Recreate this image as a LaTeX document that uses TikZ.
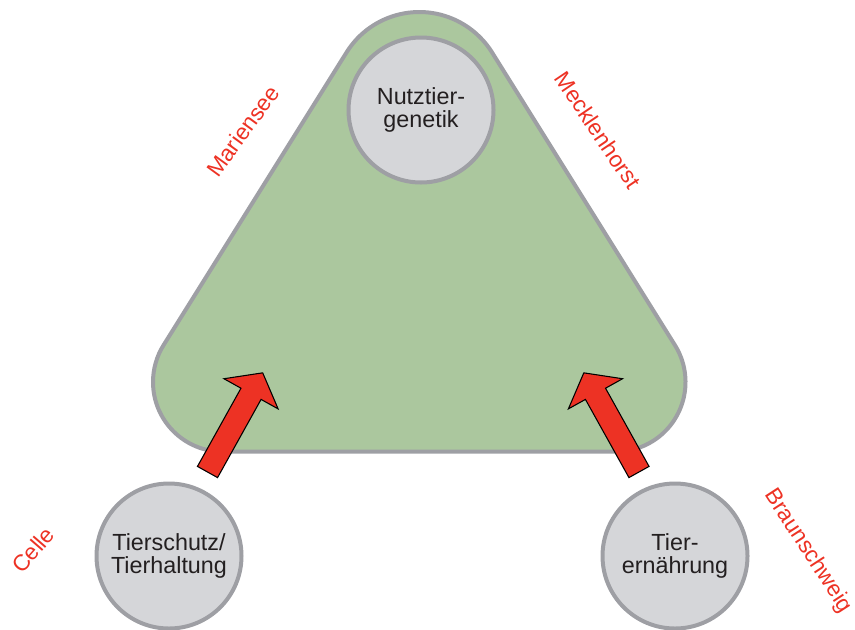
\documentclass[tikz,border=0pt]{standalone}
\usepackage{fontspec}
\setmainfont{Liberation Sans}
\definecolor{hubgreen}{RGB}{171,199,158}
\definecolor{rimgray}{RGB}{158,159,164}
\definecolor{discgray}{RGB}{213,214,217}
\definecolor{sitered}{RGB}{237,50,36}
\definecolor{inkblack}{RGB}{35,31,32}
\begin{document}
\begin{tikzpicture}[x=0.75pt,y=0.75pt,
  disc/.style={circle, draw=rimgray, line width=3pt, fill=discgray,
    minimum size=108.75pt, inner sep=0pt, align=center, text=inkblack,
    font=\fontsize{17.5}{17.5}\selectfont},
  site/.style={text=sitered, inner sep=0pt, font=\fontsize{17}{17}\selectfont},
  hub/.style={fill=hubgreen, draw=rimgray, line width=3pt},
  pics/bigarrow/.style={code={
    \draw[fill=sitered, draw=black, line width=0.8pt, line join=miter]
      (0,-11.5) -- (89.5,-11.5) -- (89.5,-31) -- (113.5,0)
      -- (89.5,31) -- (89.5,11.5) -- (0,11.5) -- cycle;
  }}
]
\useasboundingbox (0,-629) rectangle (855,0);

% rounded triangle holding the central institute
\draw[hub]
  (222.7,-451.7) arc[start angle=270, end angle=148, radius=52.275pt]
  -- (346.6,-52.3) arc[start angle=148, end angle=32, radius=64.275pt]
  -- (674.9,-345.1) arc[start angle=32, end angle=-90, radius=52.275pt]
  -- cycle;

% research areas
\node[disc] (genetik) at (421,-110) {Nutztier-\\genetik};
\node[disc] (haltung) at (169,-556) {Tierschutz/\\Tierhaltung};
\node[disc] (ernaehrung) at (675,-556) {Tier-\\ernährung};

% block arrows into the triangle
\pic (leftarrow) [rotate=60.9] at (207.5,-472) {bigarrow};
\pic (rightarrow) [rotate=119.1] at (639,-472) {bigarrow};

% locations
\node[site, rotate=54] (mariensee) at (243,-131) {Mariensee};
\node[site, rotate=-56] (mecklenhorst) at (598,-130) {Mecklenhorst};
\node[site, rotate=49] (celle) at (33,-550) {Celle};
\node[site, rotate=-57] (braunschweig) at (808,-551) {Braunschweig};
\end{tikzpicture}
\end{document}
